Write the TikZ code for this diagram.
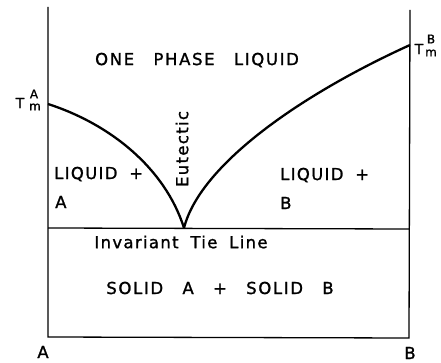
\documentclass[tikz,border=0pt]{standalone}
\usepackage{fontspec}
\newfontfamily\labfont[LetterSpace=8,WordSpace=1.8,FakeBold=1.3]{DejaVu Sans}
\newfontfamily\labwidefont[LetterSpace=10,WordSpace=2.8,FakeBold=1.3]{DejaVu Sans}
\begin{document}
\begin{tikzpicture}[x=1pt,y=-1pt,
  frame/.style={line width=1.3pt},
  curve/.style={line width=2.3pt},
  lab/.style={font=\labfont\fontsize{16.5}{19}\selectfont, inner sep=0pt},
  labwide/.style={font=\labwidefont\fontsize{16.5}{19}\selectfont, inner sep=0pt},
  tm/.style={font=\labfont\fontsize{14}{16}\selectfont, inner sep=0pt},
  tmsmall/.style={font=\labfont\fontsize{12}{13}\selectfont, inner sep=0pt}]
\useasboundingbox (0,0) rectangle (441,363);
\fill[white] (0,0) rectangle (441,363);
% frame
\coordinate (TL) at (48,7);
\coordinate (BL) at (48,337);
\coordinate (BR) at (409,338);
\coordinate (TR) at (410,10);
\coordinate (tieL) at (48,228);
\coordinate (tieR) at (409,229);
\coordinate (TmA) at (48,104);
\coordinate (E) at (184,228);
\coordinate (TmB) at (410,45);
\draw[frame] (TL) -- (BL) -- (BR) -- (TR);
\draw[frame] (tieL) -- (tieR);
% liquidus curves
\draw[curve] (TmA) .. controls (110,124) and (165,168) .. (E);
\draw[curve] (E) .. controls (200,165) and (300,95) .. (TmB);
% labels
\node[labwide] (one) at (197,60) {ONE PHASE LIQUID};
\node[lab, rotate=90] (eut) at (182,149) {Eutectic};
\node[lab, anchor=west] (liqA) at (54,174) {LIQUID +};
\node[lab, anchor=west] (A1) at (55,202) {A};
\node[lab, anchor=west] (liqB) at (280,175) {LIQUID +};
\node[lab, anchor=west] (B1) at (280,203) {B};
\node[lab] (tie) at (181,242) {Invariant Tie Line};
\node[labwide] (solid) at (220,288) {SOLID A + SOLID B};
\node[lab] (Aax) at (43,352) {A};
\node[lab] (Bax) at (410,353) {B};
% melting points
\node[tm] (TA) at (20,103) {T};
\node[tmsmall] (TAsup) at (34,94) {A};
\node[tmsmall] (TAsub) at (35,107) {m};
\node[tm] (TB) at (419,49) {T};
\node[tmsmall] (TBsup) at (431,39) {B};
\node[tmsmall] (TBsub) at (431,53) {m};
\end{tikzpicture}
\end{document}
